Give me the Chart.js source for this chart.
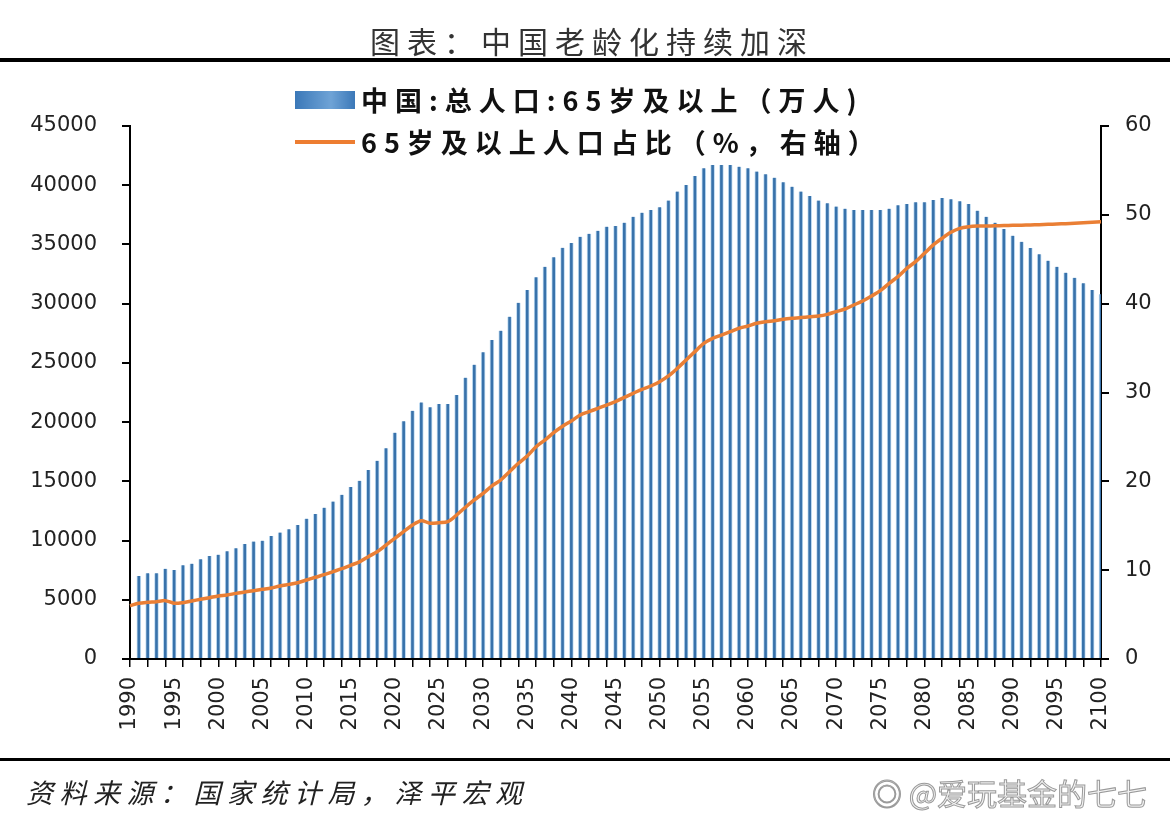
<!DOCTYPE html>
<html>
<head>
<meta charset="utf-8">
<script src="https://cdn.jsdelivr.net/npm/chart.js@4"></script>
<style>
  body { margin: 0; background: #fff; }
  #page { position: relative; width: 1170px; height: 824px; overflow: hidden; font-family: "Noto Sans CJK SC", sans-serif; }
  #wrap { position: absolute; left: 0; top: 0; width: 1170px; height: 824px; }
  .title { position: absolute; left: 0; width: 1170px; top: 18px; text-align: center; font-size: 30px; letter-spacing: 7px; padding-left: 14px; box-sizing: border-box; color: #333; }
  .rule { position: absolute; left: 0; width: 1170px; background: #000; }
  .legend { position: absolute; left: 295px; font-weight: bold; font-size: 27px; letter-spacing: 7px; color: #111; white-space: nowrap; }
  .legend span { display: inline-block; vertical-align: middle; }
  .swatch-bar { width: 60px; height: 18px; margin-right: 6px; background: linear-gradient(90deg, #3b78b8, #6fa3d6 60%, #3b78b8); }
  .swatch-line { width: 60px; height: 4px; margin-right: 6px; background: #ed7d31; }
  .source { position: absolute; left: 26px; top: 772px; font-size: 27px; letter-spacing: 6.5px; font-style: italic; color: #222; }
  .mark { position: absolute; left: 872px; top: 770px; font-size: 30px; color: #f2f2f2; -webkit-text-stroke: 1px #9a9a9a; }
</style>
</head>
<body>
<div id="page">
  <div id="wrap"><canvas id="myChart"></canvas></div>
  <div class="title">图表：中国老龄化持续加深</div>
  <div class="rule" style="top:58px;height:4px"></div>
  <div class="legend" style="top:76px"><span class="swatch-bar"></span><span>中国:总人口:65岁及以上（万人)</span></div>
  <div class="legend" style="top:118px"><span class="swatch-line"></span><span>65岁及以上人口占比（%，右轴）</span></div>
  <div class="rule" style="top:758px;height:3px"></div>
  <div class="source">资料来源：国家统计局，泽平宏观</div>
  <div class="mark">◎ @爱玩基金的七七</div>
</div>
<script>
// categories: 1990 - 2100
const years = [
  '1990','1991','1992','1993','1994','1995','1996','1997','1998','1999',
  '2000','2001','2002','2003','2004','2005','2006','2007','2008','2009',
  '2010','2011','2012','2013','2014','2015','2016','2017','2018','2019',
  '2020','2021','2022','2023','2024','2025','2026','2027','2028','2029',
  '2030','2031','2032','2033','2034','2035','2036','2037','2038','2039',
  '2040','2041','2042','2043','2044','2045','2046','2047','2048','2049',
  '2050','2051','2052','2053','2054','2055','2056','2057','2058','2059',
  '2060','2061','2062','2063','2064','2065','2066','2067','2068','2069',
  '2070','2071','2072','2073','2074','2075','2076','2077','2078','2079',
  '2080','2081','2082','2083','2084','2085','2086','2087','2088','2089',
  '2090','2091','2092','2093','2094','2095','2096','2097','2098','2099',
  '2100'
];

// 65岁及以上人口（万人）
const pop65 = [
  null, 7010, 7240, 7240, 7620, 7510, 7910, 8050, 8420, 8700,
  8810, 9090, 9340, 9710, 9910, 9990, 10390, 10670, 10950, 11310,
  11850, 12240, 12780, 13300, 13860, 14520, 15040, 15960, 16740, 17790,
  19110, 20080, 20960, 21660, 21250, 21530, 21530, 22290, 23750, 24850,
  25890, 26930, 27720, 28900, 30080, 31150, 32230, 33120, 33910, 34720,
  35120, 35650, 35900, 36150, 36500, 36560, 36840, 37340, 37680, 37910,
  38140, 38700, 39460, 40020, 40780, 41430, 41710, 41710, 41710, 41570,
  41430, 41150, 40920, 40640, 40250, 39880, 39460, 39090, 38700, 38480,
  38200, 38020, 37910, 37910, 37910, 37910, 38020, 38300, 38420, 38560,
  38560, 38750, 38920, 38810, 38640, 38420, 37850, 37340, 36840, 36300,
  35740, 35230, 34700, 34170, 33630, 33120, 32620, 32190, 31720, 31160,
  30790
];

// 65岁及以上人口占比（%）
const share65 = [
  6.0, 6.27, 6.38, 6.45, 6.57, 6.27, 6.34, 6.53, 6.72, 6.9,
  7.09, 7.2, 7.39, 7.54, 7.69, 7.84, 7.99, 8.22, 8.4, 8.59,
  8.89, 9.2, 9.49, 9.83, 10.17, 10.55, 10.93, 11.52, 12.08, 12.83,
  13.59, 14.33, 15.08, 15.57, 15.28, 15.35, 15.46, 16.21, 17.08, 17.9,
  18.65, 19.48, 20.15, 21.09, 22.03, 22.85, 23.9, 24.65, 25.48, 26.2,
  26.8, 27.47, 27.84, 28.22, 28.59, 28.97, 29.46, 29.91, 30.36, 30.73,
  31.22, 31.86, 32.72, 33.66, 34.6, 35.54, 36.1, 36.47, 36.85, 37.23,
  37.49, 37.79, 37.97, 38.08, 38.24, 38.35, 38.43, 38.53, 38.61, 38.8,
  39.1, 39.4, 39.85, 40.3, 40.86, 41.46, 42.29, 43.04, 43.98, 44.73,
  45.67, 46.61, 47.36, 48.03, 48.48, 48.67, 48.74, 48.74, 48.76, 48.79,
  48.82, 48.84, 48.86, 48.89, 48.93, 48.97, 49.01, 49.06, 49.11, 49.17,
  49.23
];

const leftTicks = { min: 0, max: 45000, step: 5000 };
const rightTicks = { min: 0, max: 60, step: 10 };

Chart.defaults.font.family = 'DejaVu Sans';
Chart.defaults.color = '#222';

const ctx = document.getElementById('myChart').getContext('2d');

new Chart(ctx, {
  type: 'bar',
  data: {
    labels: years,
    datasets: [{
      type: 'line',
      label: '65岁及以上人口占比（%，右轴）',
      data: share65,
      yAxisID: 'y1',
      borderColor: '#ea7f35',
      borderWidth: 3.5,
      pointRadius: 0,
      tension: 0.3,
      fill: false,
      order: 1
    }, {
      label: '中国:总人口:65岁及以上（万人)',
      data: pop65,
      yAxisID: 'y',
      backgroundColor: '#3872ab',
      borderColor: 'rgba(185,215,240,0.9)',
      borderWidth: { left: 1, right: 1, top: 0, bottom: 0 },
      barThickness: 4,
      order: 2
    }]
  },
  options: {
    responsive: true,
    maintainAspectRatio: false,
    animation: false,
    layout: { padding: { top: 126, left: 0, right: 0, bottom: 0 } },
    plugins: {
      legend: { display: false },
      tooltip: { enabled: false }
    },
    scales: {
      x: {
        offset: false,
        afterFit: s => { s.height = 165; },
        grid: {
          offset: false,
          drawOnChartArea: false,
          tickLength: 8,
          lineWidth: 1.5,
          color: c => (c.index % 2 === 0 ? '#000' : 'rgba(0,0,0,0)')
        },
        border: { color: '#000', width: 2 },
        ticks: {
          autoSkip: false,
          maxRotation: 90,
          minRotation: 90,
          padding: 10,
          font: { size: 21 },
          callback: function (value, index) {
            return index % 5 === 0 ? this.getLabelForValue(value) : '';
          }
        }
      },
      y: {
        position: 'left',
        min: leftTicks.min,
        max: leftTicks.max,
        afterFit: s => { s.width = 130; },
        grid: { drawOnChartArea: false, tickLength: 8, color: '#000', lineWidth: 2 },
        border: { color: '#000', width: 2 },
        ticks: { stepSize: leftTicks.step, padding: 25, font: { size: 21 }, callback: v => String(v) }
      },
      y1: {
        position: 'right',
        min: rightTicks.min,
        max: rightTicks.max,
        afterFit: s => { s.width = 69; },
        grid: { drawOnChartArea: false, tickLength: 8, color: '#000', lineWidth: 2 },
        border: { color: '#000', width: 2 },
        ticks: { stepSize: rightTicks.step, padding: 16, font: { size: 21 } }
      }
    }
  }
});
</script>
</body>
</html>
